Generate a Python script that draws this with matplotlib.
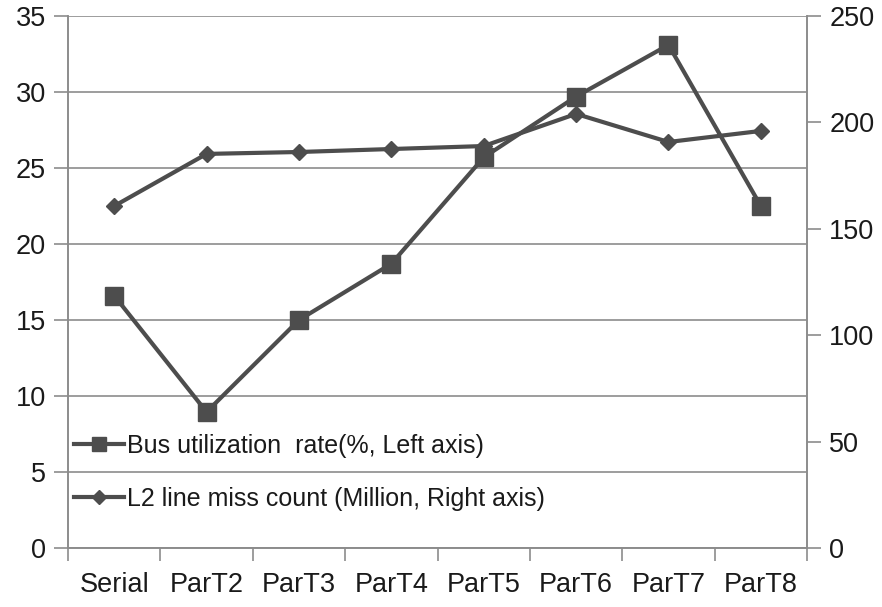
import numpy as np
import matplotlib; matplotlib.use("Agg")
import matplotlib.pyplot as plt
from matplotlib.ticker import FixedLocator, NullFormatter

plt.rcParams['font.family'] = ['Liberation Sans', 'DejaVu Sans']

categories = ["Serial", "ParT2", "ParT3", "ParT4", "ParT5", "ParT6", "ParT7", "ParT8"]
bus_util = [16.6, 8.95, 15.0, 18.7, 25.7, 29.7, 33.1, 22.5]          # %, left axis
l2_miss = [160.7, 185.2, 186.1, 187.5, 188.9, 204.0, 190.8, 196.0]   # million, right axis
left_ticks = [0, 5, 10, 15, 20, 25, 30, 35]
right_ticks = [0, 50, 100, 150, 200, 250]

LC = "#4d4d4d"
GC = "#8c8c8c"
TC = "#1a1a1a"

fig = plt.figure(figsize=(8.82, 6.07), dpi=100)
ax = fig.add_axes([0.0771, 0.0972, 0.915 - 0.0771, 0.9736 - 0.0972])
ax2 = ax.twinx()

x = np.arange(len(categories))
l1, = ax.plot(x, bus_util, color=LC, lw=3, marker="s", ms=13, zorder=3,
              label="Bus utilization  rate(%, Left axis)")
l2, = ax2.plot(x, l2_miss, color=LC, lw=3, marker="D", ms=8.5, zorder=3,
               label="L2 line miss count (Million, Right axis)")

ax.set_xlim(-0.5, len(categories) - 0.5)
ax.set_ylim(0, 35)
ax2.set_ylim(0, 250)
ax.set_yticks(left_ticks)
ax2.set_yticks(right_ticks)
ax.yaxis.grid(True, color=GC, lw=1.2)
ax.set_axisbelow(True)

# category ticks sit between the labels
ax.xaxis.set_major_locator(FixedLocator(np.arange(-0.5, len(categories), 1.0)))
ax.xaxis.set_major_formatter(NullFormatter())
ax.xaxis.set_minor_locator(FixedLocator(x))
ax.set_xticklabels(categories, minor=True)
ax.tick_params(axis="x", which="major", length=9, width=1.2, color=GC, direction="out")
ax.tick_params(axis="x", which="minor", length=0, pad=17, labelsize=19.5, labelcolor=TC)
ax.tick_params(axis="y", length=10, width=1.2, color=GC, labelsize=19.5, labelcolor=TC, pad=6)
ax2.tick_params(axis="y", length=10, width=1.2, color=GC, labelsize=19.5, labelcolor=TC, pad=6)

for a in (ax, ax2):
    a.spines["top"].set_visible(False)
    for s in ("left", "right", "bottom"):
        a.spines[s].set_color(GC)
        a.spines[s].set_linewidth(1.2)

leg = ax2.legend(handles=[l1, l2], loc="lower left", bbox_to_anchor=(-0.005, 0.051),
                 frameon=False, fontsize=18, handlelength=2.0, handletextpad=0.1,
                 labelspacing=1.16, borderaxespad=0, markerscale=0.8)
for t in leg.get_texts():
    t.set_color(TC)

plt.savefig("out.png", dpi=100)
